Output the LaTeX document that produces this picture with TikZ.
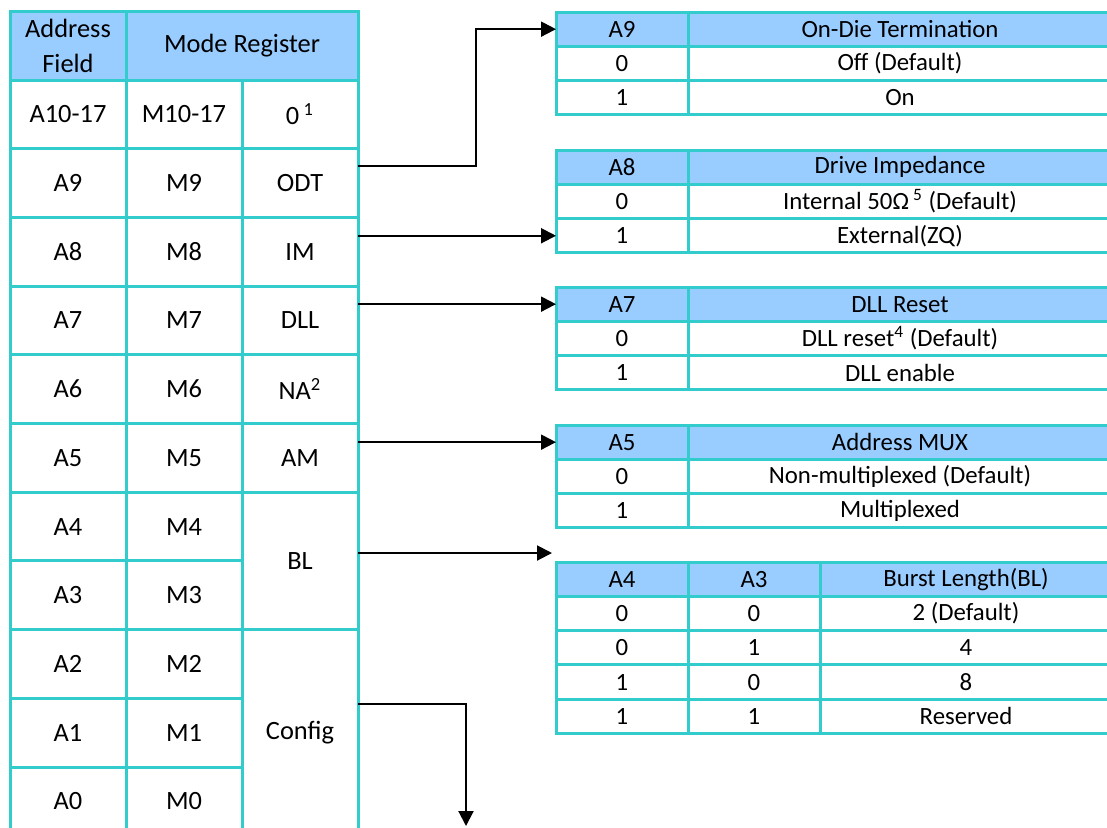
\documentclass[tikz,border=0pt]{standalone}
\usepackage{fontspec}
\setmainfont{Carlito}
\usetikzlibrary{arrows.meta, positioning, calc}
\definecolor{cteal}{HTML}{33CCCC}
\definecolor{chead}{HTML}{99CCFF}
\tikzset{
  every picture/.style={font=\fontsize{13.2pt}{16pt}\selectfont},
  cell/.style={draw=cteal, line width=1.5pt, anchor=north west, inner sep=0pt, outer sep=0pt, align=center, minimum width=#1, minimum height=34.35pt},
  cell/.default=58pt,
  hcell/.style={cell=#1, fill=chead},
  rcell/.style={draw=cteal, line width=1.5pt, anchor=north west, inner sep=0pt, outer sep=0pt, minimum width=#1, minimum height=17.15pt, font=\fontsize{12.4pt}{14pt}\selectfont},
  rcell/.default=66pt,
  rhead/.style={rcell=#1, fill=chead},
  rhead/.default=66pt,
  arrow/.style={-{Triangle[length=7.5pt, width=7.5pt]}, line width=1pt},
}

\begin{document}
\begin{tikzpicture}[x=0.5pt, y=-0.5pt]
  \useasboundingbox (0,0) rectangle (1107,827);
  \clip (0,0) rectangle (1107,827);

  % mode register
  \node[hcell] (lhA) at (10,11.3) {Address\\[1.5pt]Field};
  \node[hcell=116pt] (lhM) at (126,11.3) {Mode Register};

  \node[cell] (a10) at (10,80) {A10-17};
  \node[cell] (m10) at (126,80) {M10-17};
  \node[cell] (z10) at (242,80) {0\,\textsuperscript{1}};

  \node[cell] (a9) at (10,148.7) {A9};
  \node[cell] (m9) at (126,148.7) {M9};
  \node[cell] (odt) at (242,148.7) {ODT};

  \node[cell] (a8) at (10,217.4) {A8};
  \node[cell] (m8) at (126,217.4) {M8};
  \node[cell] (im) at (242,217.4) {IM};

  \node[cell] (a7) at (10,286.1) {A7};
  \node[cell] (m7) at (126,286.1) {M7};
  \node[cell] (dll) at (242,286.1) {DLL};

  \node[cell] (a6) at (10,354.8) {A6};
  \node[cell] (m6) at (126,354.8) {M6};
  \node[cell] (na) at (242,354.8) {NA\textsuperscript{2}};

  \node[cell] (a5) at (10,423.5) {A5};
  \node[cell] (m5) at (126,423.5) {M5};
  \node[cell] (am) at (242,423.5) {AM};

  \node[cell] (a4) at (10,492.2) {A4};
  \node[cell] (m4) at (126,492.2) {M4};
  \node[cell, minimum height=68.7pt] (bl) at (242,492.2) {BL};

  \node[cell] (a3) at (10,560.9) {A3};
  \node[cell] (m3) at (126,560.9) {M3};

  \node[cell] (a2) at (10,629.6) {A2};
  \node[cell] (m2) at (126,629.6) {M2};
  \node[cell, minimum height=103.05pt] (cfg) at (242,629.6) {Config};

  \node[cell] (a1) at (10,698.3) {A1};
  \node[cell] (m1) at (126,698.3) {M1};

  \node[cell] (a0) at (10,767) {A0};
  \node[cell] (m0) at (126,767) {M0};

  % on-die termination
  \node[rhead] (odtH) at (556,12) {A9};
  \node[rhead=212pt] (odtHd) at (688,12) {On-Die Termination};
  \node[rcell] (odt0) at (556,46.3) {0};
  \node[rcell=212pt] (odt0d) at (688,46.3) {Off (Default)};
  \node[rcell] (odt1) at (556,80.6) {1};
  \node[rcell=212pt] (odt1d) at (688,80.6) {On};

  % drive impedance
  \node[rhead] (imH) at (556,150) {A8};
  \node[rhead=212pt] (imHd) at (688,150) {Drive Impedance};
  \node[rcell] (im0) at (556,184.3) {0};
  \node[rcell=212pt] (im0d) at (688,184.3) {Internal 50Ω\,\textsuperscript{5} (Default)};
  \node[rcell] (im1) at (556,218.6) {1};
  \node[rcell=212pt] (im1d) at (688,218.6) {External(ZQ)};

  % dll reset
  \node[rhead] (dllH) at (556,287) {A7};
  \node[rhead=212pt] (dllHd) at (688,287) {DLL Reset};
  \node[rcell] (dll0) at (556,321.3) {0};
  \node[rcell=212pt] (dll0d) at (688,321.3) {DLL reset\textsuperscript{4} (Default)};
  \node[rcell] (dll1) at (556,355.6) {1};
  \node[rcell=212pt] (dll1d) at (688,355.6) {DLL enable};

  % address mux
  \node[rhead] (amH) at (556,425) {A5};
  \node[rhead=212pt] (amHd) at (688,425) {Address MUX};
  \node[rcell] (am0) at (556,459.3) {0};
  \node[rcell=212pt] (am0d) at (688,459.3) {Non-multiplexed (Default)};
  \node[rcell] (am1) at (556,493.6) {1};
  \node[rcell=212pt] (am1d) at (688,493.6) {Multiplexed};

  % burst length
  \node[rhead] (blH) at (556,562) {A4};
  \node[rhead] (blH3) at (688,562) {A3};
  \node[rhead=146pt] (blHd) at (820,562) {Burst Length(BL)};
  \node[rcell] (bl0a) at (556,596.3) {0};
  \node[rcell] (bl0b) at (688,596.3) {0};
  \node[rcell=146pt] (bl0d) at (820,596.3) {2 (Default)};
  \node[rcell] (bl1a) at (556,630.6) {0};
  \node[rcell] (bl1b) at (688,630.6) {1};
  \node[rcell=146pt] (bl1d) at (820,630.6) {4};
  \node[rcell] (bl2a) at (556,664.9) {1};
  \node[rcell] (bl2b) at (688,664.9) {0};
  \node[rcell=146pt] (bl2d) at (820,664.9) {8};
  \node[rcell] (bl3a) at (556,699.2) {1};
  \node[rcell] (bl3b) at (688,699.2) {1};
  \node[rcell=146pt] (bl3d) at (820,699.2) {Reserved};

  % connectors
  \coordinate (bltip) at ([xshift=-2pt, yshift=4.5pt]blH.north west);
  \coordinate (cfgend) at (466,826);
  \draw[arrow] ([yshift=-8.5pt]odt.north east) -- ++(118,0) |- (odtH.west);
  \draw[arrow] (im.east |- im1.west) -- (im1.west);
  \draw[arrow] (dll.east |- dllH.west) -- (dllH.west);
  \draw[arrow] (am.east |- amH.west) -- (amH.west);
  \draw[arrow] (bl.east |- bltip) -- (bltip);
  \draw[arrow] ([yshift=14.5pt]cfg.east) -| (cfgend);
\end{tikzpicture}
\end{document}
